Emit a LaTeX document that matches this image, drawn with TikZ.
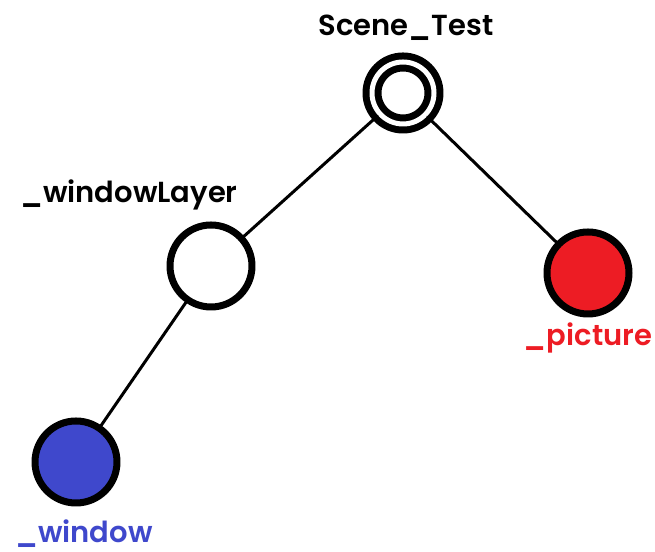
\documentclass[tikz,border=0pt]{standalone}
\usepackage{fontspec}
\setmainfont{Poppins}[BoldFont={Poppins SemiBold}]
\usepackage{tikz}
\definecolor{treeRed}{HTML}{ED1C24}
\definecolor{treeBlue}{HTML}{3F48CC}
\tikzset{
    tnode/.style={circle, draw=black, line width=0.14cm, fill=white, minimum size=1.64cm, inner sep=0pt},
    troot/.style={circle, draw=black, double=white, double distance=0.10cm, line width=0.14cm, minimum size=1.24cm, inner sep=0pt},
    tlabel/.style={font=\fontsize{16.5}{19}\selectfont\bfseries, inner sep=0pt},
    tlink/.style={line width=0.06cm}
}

\begin{document}
\begin{tikzpicture}[line cap=round, line join=round]
    \useasboundingbox (0,0) rectangle (13.1,11.04);

    \node[troot] (scene) at (8.06,9.18) {};
    \node[tnode] (layer) at (4.22,5.72) {};
    \node[tnode, fill=treeRed] (picture) at (11.76,5.58) {};
    \node[tnode, fill=treeBlue] (window) at (1.52,1.80) {};

    \draw[tlink] (scene) -- (layer);
    \draw[tlink] (scene) -- (picture);
    \draw[tlink] (layer) -- (window);

    \node[tlabel] (sceneName) at (8.12,10.48) {Scene\_Test};
    \node[tlabel] (layerName) at (2.58,7.14) {\_windowLayer};
    \node[tlabel, text=treeRed] (pictureName) at (11.76,4.28) {\_picture};
    \node[tlabel, text=treeBlue] (windowName) at (1.68,0.36) {\_window};
\end{tikzpicture}
\end{document}
